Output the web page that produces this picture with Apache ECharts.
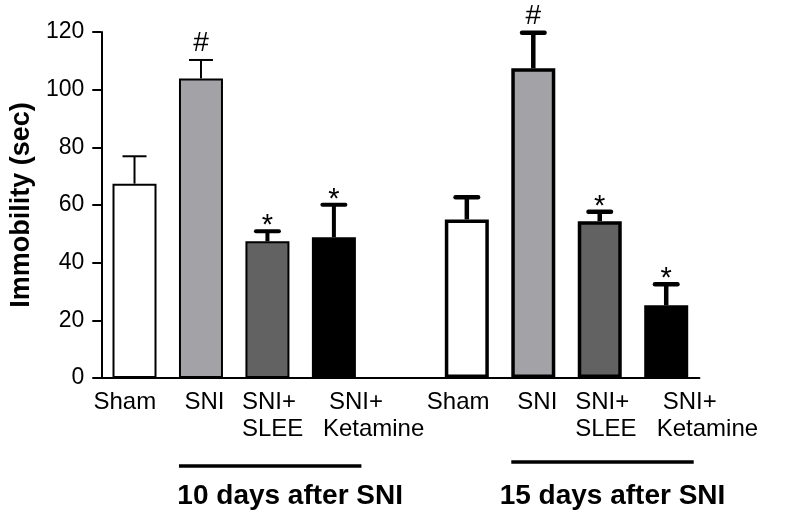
<!DOCTYPE html>
<html><head><meta charset="utf-8">
<script src="https://cdn.jsdelivr.net/npm/echarts@6/dist/echarts.min.js"></script>
<style>html,body{margin:0;padding:0;background:#fff}#c{width:788px;height:529px}</style>
</head><body><div id="c"></div>
<script>
// ---- data ----
const categories = ['Sham', 'SNI', 'SNI+\nSLEE', 'SNI+\nKetamine', '', 'Sham', 'SNI', 'SNI+\nSLEE', 'SNI+\nKetamine'];
const means = [67.4, 103.9, 47.4, 48.8, null, 55.0, 107.4, 54.4, 25.2];
const sems  = [9.5, 6.4, 3.5, 11.3, null, 7.7, 12.3, 3.3, 7.3];
const marks = ['', '#', '*', '*', '', '', '#', '*', '*'];
const yTicks = [0, 20, 40, 60, 80, 100, 120];
const groupTitles = ['10 days after SNI', '15 days after SNI'];
const groupMembers = [[1, 3], [6, 8]];

// ---- styles / layout ----
const FONT = '"Liberation Sans", Arial, Helvetica, sans-serif';
const fills = ['#ffffff', '#a3a3a7', '#626262', '#000000', '#ffffff', '#ffffff', '#a3a3a7', '#626262', '#000000'];
const borderW = [2, 2, 2, 2, 0, 3.5, 3.5, 3.5, 3.5];
const errW = [2, 2, 4, 4, 0, 4.5, 4.5, 4.5, 4.5];
const labelShift = [[-41], [-16.5], [-25.5, -25.5], [-5, -11], [0], [-40], [-16], [-24.5, -24.5], [-3.5, -9.5]];
const titleShift = [20, 10];
const bracketDy = [88, 84];
const LBL = 24, LH = 27, BLOCK = 240;

const rich = {};
categories.forEach((c, i) => {
  c.split('\n').forEach((ln, k) => {
    const d = labelShift[i][k] || 0;
    rich['s' + i + '_' + k] = {width: BLOCK / 2 + d, align: 'left', fontSize: LBL, fontFamily: FONT, lineHeight: LH, color: '#000'};
    rich['t' + i + '_' + k] = {width: BLOCK / 2 - d, align: 'left', fontSize: LBL, fontFamily: FONT, lineHeight: LH, color: '#000'};
  });
});

const chart = echarts.init(document.getElementById('c'), null, {renderer: 'canvas'});

const barData = means.map((v, i) => v == null ? '-' : {
  value: v,
  itemStyle: {color: fills[i], borderColor: '#000', borderWidth: borderW[i]}
});
const errData = [];
means.forEach((v, i) => { if (v != null) errData.push([i, v, sems[i]]); });

const option = {
  animation: false,
  backgroundColor: '#fff',
  grid: {left: 101, top: 32, width: 620, bottom: 151, containLabel: false},
  xAxis: {
    type: 'category',
    data: categories,
    axisLine: {show: true, lineStyle: {color: '#000', width: 2}},
    axisTick: {show: false},
    splitLine: {show: false},
    axisLabel: {
      interval: 0, margin: 11, color: '#000', fontSize: LBL, fontFamily: FONT, lineHeight: LH,
      formatter: function (value, index) {
        if (!value) return '';
        return value.split('\n').map((ln, k) =>
          '{s' + index + '_' + k + '| }{t' + index + '_' + k + '|' + ln + '}').join('\n');
      },
      rich: rich
    }
  },
  yAxis: {
    type: 'value',
    min: yTicks[0], max: yTicks[yTicks.length - 1], interval: yTicks[1] - yTicks[0],
    name: 'Immobility (sec)', nameLocation: 'middle', nameGap: 63,
    nameTextStyle: {color: '#000', fontSize: 27, fontWeight: 'bold', fontFamily: FONT},
    axisLine: {show: true, lineStyle: {color: '#000', width: 2}},
    axisTick: {show: true, length: 9, lineStyle: {color: '#000', width: 2}},
    splitLine: {show: false},
    axisLabel: {color: '#000', fontSize: 23, fontFamily: FONT, margin: 17}
  },
  series: [
    {
      type: 'bar', data: barData, barWidth: 44, z: 2
    },
    {
      type: 'custom', data: errData, z: 3,
      encode: {x: 0, y: [1, 2]},
      renderItem: function (params, api) {
        const i = api.value(0), m = api.value(1), e = api.value(2);
        const base = api.coord([i, m]);
        const top = api.coord([i, m + e]);
        const w = errW[i];
        const round = w > 3;
        const half = round ? 13.5 - w / 2 : 12;
        const children = [
          {type: 'line', shape: {x1: base[0], y1: base[1], x2: top[0], y2: top[1]},
           style: {stroke: '#000', lineWidth: w}},
          {type: 'line', shape: {x1: top[0] - half, y1: top[1], x2: top[0] + half, y2: top[1]},
           style: {stroke: '#000', lineWidth: w, lineCap: round ? 'round' : 'butt'}}
        ];
        const mk = marks[i];
        if (mk) {
          children.push({type: 'text', x: top[0], y: top[1] - (mk === '#' ? 17 : 5),
            style: {text: mk, fill: '#000', fontSize: mk === '#' ? 28 : 29, fontFamily: FONT,
                    align: 'center', verticalAlign: 'middle'}});
        }
        return {type: 'group', children: children};
      }
    }
  ]
};
chart.setOption(option);

// group brackets and titles, positioned from the axes
const y0 = chart.convertToPixel({yAxisIndex: 0}, 0);
const gfx = [];
groupMembers.forEach((g, k) => {
  const xa = chart.convertToPixel({xAxisIndex: 0}, g[0]) - 22;
  const xb = chart.convertToPixel({xAxisIndex: 0}, g[1]) + 27.5;
  const ly = y0 + bracketDy[k];
  gfx.push({type: 'line', shape: {x1: xa, y1: ly, x2: xb, y2: ly},
            style: {stroke: '#000', lineWidth: 3.5}});
  gfx.push({type: 'text', x: (xa + xb) / 2 + titleShift[k], y: y0 + 118,
            style: {text: groupTitles[k], fill: '#000', fontSize: 28, fontWeight: 'bold',
                    fontFamily: FONT, align: 'center', verticalAlign: 'middle'}});
});
chart.setOption({graphic: gfx});
</script>
</body></html>
